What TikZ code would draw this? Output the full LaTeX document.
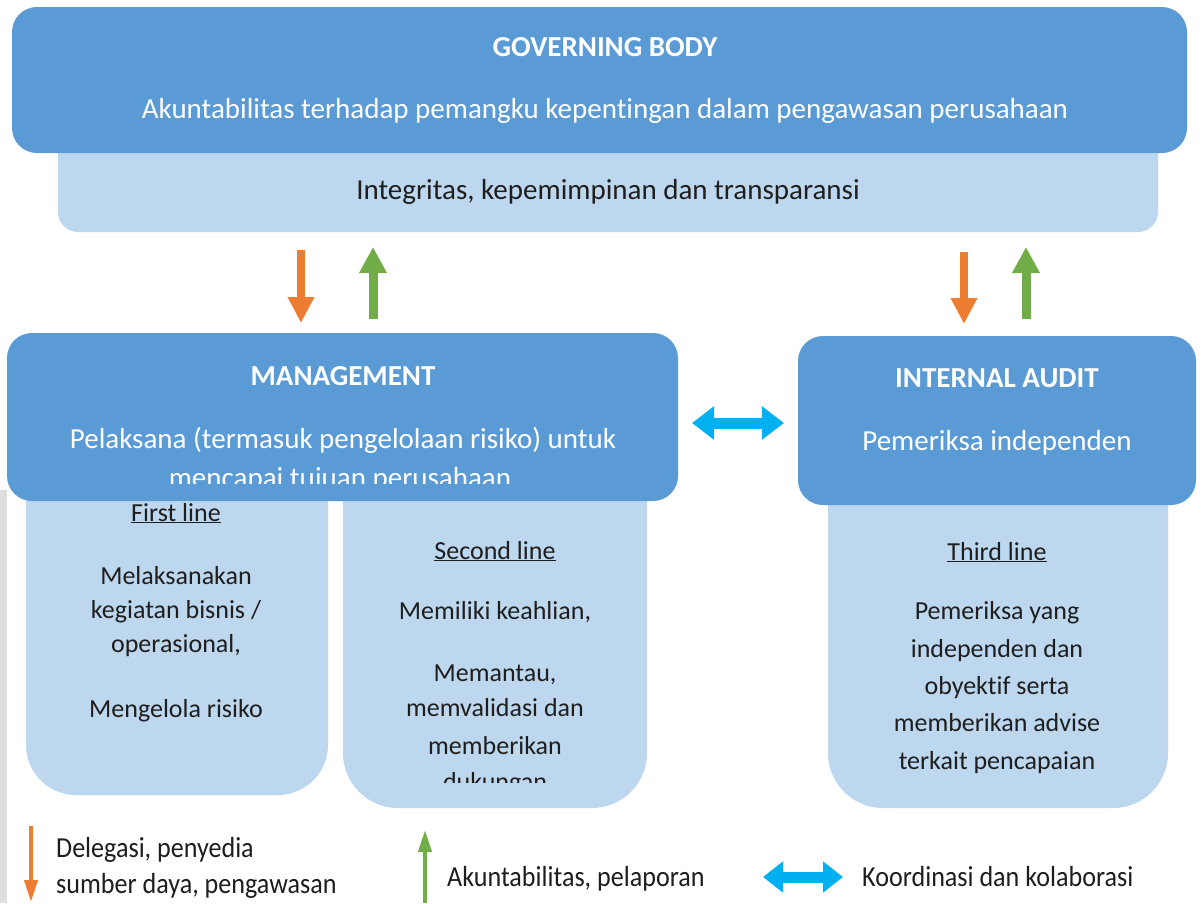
\documentclass[tikz,border=0pt]{standalone}
\usepackage{fontspec}
\setmainfont[Ligatures=NoCommon]{Carlito}
\newfontfamily\condfont[FakeStretch=0.9,Ligatures=NoCommon]{Carlito}
\usetikzlibrary{arrows.meta}
\definecolor{dkblue}{HTML}{5B9BD5}
\definecolor{ltblue}{HTML}{BDD7EE}
\definecolor{orng}{HTML}{ED7D31}
\definecolor{grn}{HTML}{70AD47}
\definecolor{cyn}{HTML}{00B0F0}
\definecolor{txt}{HTML}{1E1E1E}
\tikzset{
  darkbox/.style={fill=dkblue, draw=none, inner sep=0pt, rounded corners=25pt},
  lightbox/.style={fill=ltblue, draw=none, inner sep=0pt},
  headtxt/.style={anchor=base, text=white, font=\fontsize{29}{34}\selectfont\bfseries},
  toptxt/.style={anchor=base, text=white, font=\fontsize{29}{34}\selectfont},
  darktxt/.style={anchor=base, text=txt, font=\fontsize{29}{34}\selectfont},
  linetxt/.style={anchor=base, text=txt, font=\fontsize{26}{30}\selectfont},
  legtxt/.style={anchor=base west, text=txt, inner sep=0pt, font=\condfont\fontsize{29}{34}\selectfont},
  downarrow/.style={draw=orng, line width=8pt, -{Triangle[width=25pt,length=26pt]}},
  uparrow/.style={draw=grn, line width=9pt, -{Triangle[width=26pt,length=26pt]}},
  twoway/.style={draw=cyn, line width=11pt, {Triangle[width=32pt,length=22pt]}-{Triangle[width=32pt,length=22pt]}},
  legdown/.style={draw=orng, line width=4pt, -{Triangle[width=13pt,length=22pt]}},
  legup/.style={draw=grn, line width=4pt, -{Triangle[width=13pt,length=22pt]}},
  legtwo/.style={draw=cyn, line width=11pt, {Triangle[width=30pt,length=20pt]}-{Triangle[width=30pt,length=20pt]}},
}
\begin{document}
\begin{tikzpicture}[x=1pt,y=-1pt]
\useasboundingbox (0,0) rectangle (1203,903);
\fill[white] (0,0) rectangle (1203,903);
\fill[black!13] (0,490) rectangle (7,903);

% governing body
\node[lightbox, rounded corners=20pt, minimum width=1100pt, minimum height=172pt] (gbl) at (608,146) {};
\node[darkbox, minimum width=1175pt, minimum height=146pt] (gb) at (599.5,80) {};
\node[headtxt] (gbt) at (605,56) {GOVERNING BODY};
\node[toptxt] (gbs) at (605,118) {Akuntabilitas terhadap pemangku kepentingan dalam pengawasan perusahaan};
\node[darktxt] (gbv) at (608,199) {Integritas, kepemimpinan dan transparansi};

% line boxes
\node[lightbox, rounded corners=50pt, minimum width=302pt, minimum height=375pt] (fl) at (177,607.5) {};
\node[lightbox, rounded corners=55pt, minimum width=304pt, minimum height=388pt] (sl) at (495,614) {};
\node[lightbox, rounded corners=55pt, minimum width=340pt, minimum height=388pt] (tl) at (998,614) {};

% management & internal audit
\node[darkbox, minimum width=671pt, minimum height=168pt] (mg) at (342.5,417) {};
\node[darkbox, minimum width=398pt, minimum height=169pt] (ia) at (997,420.5) {};

\node[headtxt] (mgt) at (343,385) {MANAGEMENT};
\node[toptxt] (mgs) at (343,448) {Pelaksana (termasuk pengelolaan risiko) untuk};
\begin{scope}
  \clip (7,455) rectangle (678,483);
  \node[toptxt] (mgs2) at (340,487) {mencapai tujuan perusahaan};
\end{scope}
\node[headtxt] (iat) at (997,387) {INTERNAL AUDIT};
\node[toptxt] (ias) at (997,450) {Pemeriksa independen};

% first line
\node[linetxt] (flh) at (176,521) {\underline{First line}};
\node[linetxt] (fl1) at (176,584) {Melaksanakan};
\node[linetxt] (fl2) at (176,618) {kegiatan bisnis /};
\node[linetxt] (fl3) at (176,652) {operasional,};
\node[linetxt] (fl4) at (176,717) {Mengelola risiko};

% second line
\node[linetxt] (slh) at (495,559) {\underline{Second line}};
\node[linetxt] (sl1) at (495,619) {Memiliki keahlian,};
\node[linetxt] (sl2) at (495,681) {Memantau,};
\node[linetxt] (sl3) at (495,716) {memvalidasi dan};
\node[linetxt] (sl4) at (495,754) {memberikan};
\begin{scope}
  \clip (343,765) rectangle (647,782);
  \node[linetxt] (sl5) at (495,790) {dukungan};
\end{scope}

% third line
\node[linetxt] (tlh) at (997,560) {\underline{Third line}};
\node[linetxt] (tl1) at (997,619) {Pemeriksa yang};
\node[linetxt] (tl2) at (997,657) {independen dan};
\node[linetxt] (tl3) at (997,694) {obyektif serta};
\node[linetxt] (tl4) at (997,731) {memberikan advise};
\node[linetxt] (tl5) at (997,769) {terkait pencapaian};

% arrows between levels
\coordinate (d1a) at (301,250); \coordinate (d1b) at (301,323);
\coordinate (u1a) at (373,319); \coordinate (u1b) at (373,247);
\coordinate (d2a) at (964,252); \coordinate (d2b) at (964,324);
\coordinate (u2a) at (1026,319); \coordinate (u2b) at (1026,247);
\draw[downarrow] (d1a) -- (d1b);
\draw[uparrow] (u1a) -- (u1b);
\draw[downarrow] (d2a) -- (d2b);
\draw[uparrow] (u2a) -- (u2b);
\coordinate (h1) at (692,423); \coordinate (h2) at (784,423);
\draw[twoway] (h1) -- (h2);

% legend
\coordinate (l1a) at (31,826); \coordinate (l1b) at (31,902);
\draw[legdown] (l1a) -- (l1b);
\node[legtxt] (lt1) at (56,857) {Delegasi, penyedia};
\node[legtxt] (lt2) at (56,893) {sumber daya, pengawasan};
\coordinate (l2a) at (425,903); \coordinate (l2b) at (425,830);
\draw[legup] (l2a) -- (l2b);
\node[legtxt] (lt3) at (447,886) {Akuntabilitas, pelaporan};
\coordinate (l3a) at (763,877); \coordinate (l3b) at (843,877);
\draw[legtwo] (l3a) -- (l3b);
\node[legtxt] (lt4) at (862,886) {Koordinasi dan kolaborasi};
\end{tikzpicture}
\end{document}
